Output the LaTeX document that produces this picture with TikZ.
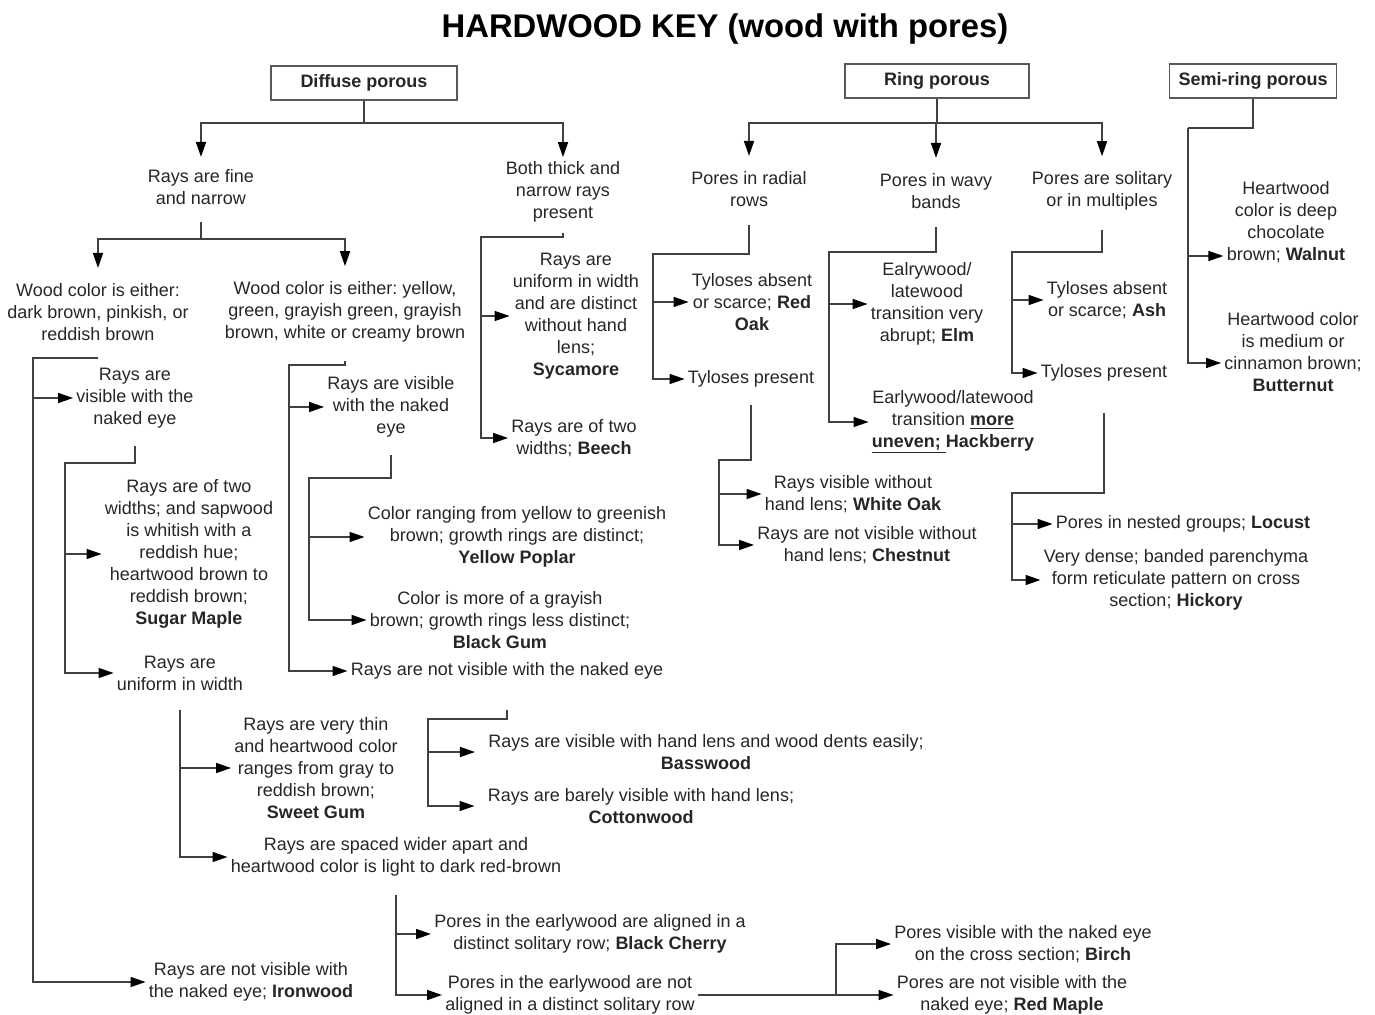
\documentclass[tikz,border=0pt]{standalone}
\usepackage{fontspec}
\setmainfont{Liberation Sans}
\usetikzlibrary{arrows.meta}
\frenchspacing

\tikzset{
  txt/.style={align=center, inner sep=1.5pt, text=black!85,
    font=\fontsize{9}{11}\selectfont},
  caixa/.style={draw=black!65, line width=0.7pt, minimum height=17pt,
    inner sep=0pt, text=black!85, font=\bfseries\fontsize{9}{11}\selectfont},
  liga/.style={draw=black!75, line width=0.75pt},
  seta/.style={liga, -{Triangle[length=7.5pt,width=5pt,color=black]}},
}

\begin{document}
\begin{tikzpicture}[x=0.5pt, y=-0.5pt]
  \useasboundingbox (0,0) rectangle (1375,1015);

  % título
  \node[font=\bfseries\fontsize{16.4}{20}\selectfont] (titulo) at (725,29)
    {HARDWOOD KEY (wood with pores)};

  % caixas
  \node[caixa, minimum width=93pt] (difuso) at (364,83) {Diffuse porous};
  \node[caixa, minimum width=92pt] (anel) at (937,81) {Ring porous};
  \node[caixa, minimum width=83.5pt] (semianel) at (1253,81) {Semi-ring porous};

  % poros difusos
  \node[txt] (finos) at (201,187) {Rays are fine\\and narrow};
  \node[txt] (grossos) at (563,192) {Both thick and\\narrow rays\\present};
  \node[txt] (cor1) at (98,312) {Wood color is either:\\dark brown, pinkish, or\\reddish brown};
  \node[txt] (cor2) at (345,312) {Wood color is either: yellow,\\green, grayish green, grayish\\brown, white or creamy brown};
  \node[txt] (visivel1) at (135,398) {Rays are\\visible with the\\naked eye};
  \node[txt] (ironwood) at (251,982) {Rays are not visible with\\the naked eye; \textbf{Ironwood}};
  \node[txt] (sugar) at (189,554) {Rays are of two\\widths; and sapwood\\is whitish with a\\reddish hue;\\heartwood brown to\\reddish brown;\\\textbf{Sugar Maple}};
  \node[txt] (uniforme1) at (180,673) {Rays are\\uniform in width};
  \node[txt] (sweetgum) at (316,768) {Rays are very thin\\and heartwood color\\ranges from gray to\\reddish brown;\\\textbf{Sweet Gum}};
  \node[txt] (espacados) at (396,857) {Rays are spaced wider apart and\\heartwood color is light to dark red-brown};
  \node[txt] (cherry) at (590,934) {Pores in the earlywood are aligned in a\\distinct solitary row; \textbf{Black Cherry}};
  \node[txt] (naoalin) at (570,995) {Pores in the earlywood are not\\aligned in a distinct solitary row};
  \node[txt] (birch) at (1023,944) {Pores visible with the naked eye\\on the cross section; \textbf{Birch}};
  \node[txt] (redmaple) at (1012,995) {Pores are not visible with the\\naked eye; \textbf{Red Maple}};
  \node[txt] (visivel2) at (391,407) {Rays are visible\\with the naked\\eye};
  \node[txt] (naovis2) at (507,671) {Rays are not visible with the naked eye};
  \node[txt] (poplar) at (517,537) {Color ranging from yellow to greenish\\brown; growth rings are distinct;\\\textbf{Yellow Poplar}};
  \node[txt] (blackgum) at (500,620) {Color is more of a grayish\\brown; growth rings less distinct;\\\textbf{Black Gum}};
  \node[txt] (basswood) at (706,752) {Rays are visible with hand lens and wood dents easily;\\\textbf{Basswood}};
  \node[txt] (cottonwood) at (641,806) {Rays are barely visible with hand lens;\\\textbf{Cottonwood}};
  \node[txt] (sycamore) at (576,316) {Rays are\\uniform in width\\and are distinct\\without hand\\lens;\\\textbf{Sycamore}};
  \node[txt] (beech) at (574,438) {Rays are of two\\widths; \textbf{Beech}};

  % poros em anel
  \node[txt] (radial) at (749,189) {Pores in radial\\rows};
  \node[txt] (ondas) at (936,191) {Pores in wavy\\bands};
  \node[txt] (solitarios) at (1102,191) {Pores are solitary\\or in multiples};
  \node[txt] (redoak) at (752,302) {Tyloses absent\\or scarce; \textbf{Red}\\\textbf{Oak}};
  \node[txt] (tilos1) at (751,379) {Tyloses present};
  \node[txt] (whiteoak) at (853,494) {Rays visible without\\hand lens; \textbf{White Oak}};
  \node[txt] (chestnut) at (867,545) {Rays are not visible without\\hand lens; \textbf{Chestnut}};
  \node[txt] (elm) at (927,304) {Ealrywood/\\latewood\\transition very\\abrupt; \textbf{Elm}};
  \node[txt] (hackberry) at (953,422) {Earlywood/latewood\\transition \underline{\textbf{more}}\\\underline{\textbf{uneven;~}}\textbf{Hackberry}};
  \node[txt] (ash) at (1107,300) {Tyloses absent\\or scarce; \textbf{Ash}};
  \node[txt] (tilos2) at (1104,373) {Tyloses present};
  \node[txt] (locust) at (1183,524) {Pores in nested groups; \textbf{Locust}};
  \node[txt] (hickory) at (1176,580) {Very dense; banded parenchyma\\form reticulate pattern on cross\\section; \textbf{Hickory}};

  % poros em semi-anel
  \node[txt] (walnut) at (1286,222) {Heartwood\\color is deep\\chocolate\\brown; \textbf{Walnut}};
  \node[txt] (butternut) at (1293,352) {Heartwood color\\is medium or\\cinnamon brown;\\\textbf{Butternut}};

  % junções
  \coordinate (d0) at (364,123);
  \coordinate (f0) at (201,239);
  \coordinate (c1) at (33,358);
  \coordinate (v1) at (65,463);
  \coordinate (c2) at (289,365);
  \coordinate (v2) at (309,478);
  \coordinate (n2) at (428,719);
  \coordinate (g0) at (481,237);
  \coordinate (n0) at (836,995);
  \coordinate (a0) at (937,123);
  \coordinate (r0) at (653,254);
  \coordinate (t1) at (719,460);
  \coordinate (o0) at (829,252);
  \coordinate (s0) at (1012,252);
  \coordinate (t2) at (1012,493);
  \coordinate (m0) at (1188,128);
  \coordinate (walin) at ([yshift=-17pt]walnut.west);
  \coordinate (butin) at ([yshift=-5.5pt]butternut.west);

  % ligações: difusos
  \draw[liga] (difuso.south) -- (d0);
  \draw[seta, shorten >=4.5pt] (d0) -| (finos.north);
  \draw[seta, shorten >=0.5pt] (d0) -| (grossos.north);
  \draw[liga] ([yshift=-7pt]finos.south) -- (f0);
  \draw[seta, shorten >=6pt] (f0) -| (cor1.north);
  \draw[seta, shorten >=6pt] (f0) -| (cor2.north);

  \draw[seta] (cor1.south |- c1) -- (c1) |- (ironwood.west);
  \draw[seta] (c1 |- visivel1.west) -- (visivel1.west);
  \draw[seta] ([yshift=-7.5pt]visivel1.south) |- (v1) |- (uniforme1.west);
  \draw[seta] (v1 |- sugar.west) -- (sugar.west);
  \draw[seta] ([yshift=-8pt]uniforme1.south) |- (espacados.west);
  \draw[seta] (uniforme1.south |- sweetgum.west) -- (sweetgum.west);
  \draw[seta] ([yshift=-7.5pt]espacados.south) |- (naoalin.west);
  \draw[seta] (espacados.south |- cherry.west) -- (cherry.west);
  \draw[seta] (naoalin.east) -- (naoalin.east -| redmaple.west);
  \draw[seta] (naoalin.east -| n0) |- (birch.west);

  \draw[seta] ([yshift=-7.5pt]cor2.south) |- (c2) |- (naovis2.west);
  \draw[seta] (c2 |- visivel2.west) -- (visivel2.west);
  \draw[seta] ([yshift=-7pt]visivel2.south) |- (v2) |- (blackgum.west);
  \draw[seta] (v2 |- poplar.west) -- (poplar.west);
  \draw[seta, shorten >=5pt] ([yshift=-13.5pt]naovis2.south) |- (n2) |- (cottonwood.west);
  \draw[seta, shorten >=5pt] (n2 |- basswood.west) -- (basswood.west);

  \draw[seta] ([yshift=-3.5pt]grossos.south) |- (g0) |- (beech.west);
  \draw[seta] (g0 |- sycamore.west) -- (sycamore.west);

  % ligações: anel
  \draw[liga] (anel.south) -- (a0);
  \draw[seta, shorten >=6pt] (a0) -| (radial.north);
  \draw[seta, shorten >=6pt] (a0) -| (ondas.north);
  \draw[seta, shorten >=6pt] (a0) -| (solitarios.north);

  \draw[seta] ([yshift=-7.5pt]radial.south) |- (r0) |- (tilos1.west);
  \draw[seta] (r0 |- redoak.west) -- (redoak.west);
  \draw[seta] ([yshift=-7pt]tilos1.south) |- (t1) |- (chestnut.west);
  \draw[seta] (t1 |- whiteoak.west) -- (whiteoak.west);

  \draw[seta] ([yshift=-7.5pt]ondas.south) |- (o0) |- (hackberry.west);
  \draw[seta] (o0 |- elm.west) -- (elm.west);

  \draw[seta] ([yshift=-8pt]solitarios.south) |- (s0) |- (tilos2.west);
  \draw[seta] (s0 |- ash.west) -- (ash.west);
  \draw[seta] ([yshift=-14pt]tilos2.south) |- (t2) |- (hickory.west);
  \draw[seta] (t2 |- locust.west) -- (locust.west);

  % ligações: semi-anel
  \draw[liga] (semianel.south) |- (m0);
  \draw[seta] (m0) |- (butin);
  \draw[seta] (m0 |- walin) -- (walin);
\end{tikzpicture}
\end{document}
